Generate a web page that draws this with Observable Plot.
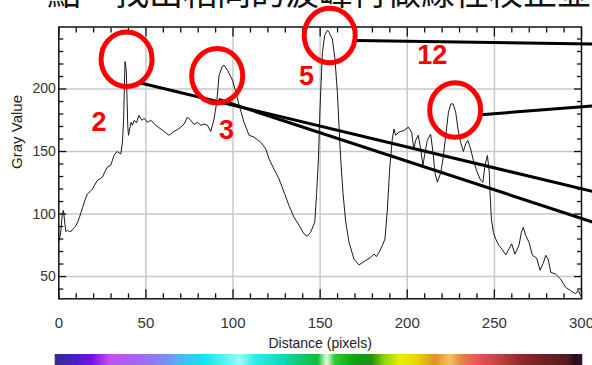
<!DOCTYPE html>
<html>
<head>
<meta charset="utf-8">
<script src="https://cdn.jsdelivr.net/npm/d3@7"></script>
<script src="https://cdn.jsdelivr.net/npm/@observablehq/plot@0.6"></script>
<style>
  html, body { margin: 0; padding: 0; background: #fff; }
  body { width: 592px; height: 365px; overflow: hidden; position: relative; }
  #top { position: absolute; left: 47px; top: -26px; font-family: "Noto Sans CJK TC", sans-serif; font-size: 34px; line-height: 34px; white-space: nowrap; color: #111; z-index: 3; }
  #chart { position: absolute; left: 0; top: 0; z-index: 1; }
  #bar { position: absolute; left: 0; top: 353.5px; z-index: 2; }
</style>
</head>
<body>
<div id="top">點，找出相同的波峰再做線性校正並</div>
<div id="chart"></div>
<div id="bar"></div>
<script>
// ---- profile data (Distance in pixels, Gray Value) ----
const distance = [0,1,2,2.7,3.5,4,5,6,7,8,9.5,10.7,12,13.6,15,16.4,18,19.3,20.5,22.2,23.5,25,26.5,27.9,29.8,30.8,31.7,33.4,34.5,35.6,36.5,37.2,37.6,38,38.4,38.8,39.2,39.6,40,40.8,41.5,42.3,43.3,44.6,46,47.6,49,50.9,52.8,55.7,59.5,63.3,66.1,69,71.9,73.8,75.7,77.6,79.6,81.5,83.4,85.3,87.2,89.1,90.6,92,93.9,94.9,96.8,99.7,101.6,103.5,106.3,109.2,112,115.9,118.8,120.7,123.5,126.4,129.3,132.1,135,137.9,140.7,142.6,144.5,146.9,148,149,149.9,151.3,152.6,154.2,155.1,157,158.5,159.9,160.8,161.8,163.1,164.7,166.6,169.4,172.3,174.2,176.1,179,180.9,182.3,183.8,185.7,187.2,188.6,189.9,191.4,192.4,193.3,195.2,198.1,200.6,202.5,203.8,204.8,206.3,207.7,209,210.2,211.5,213.4,214.8,215.9,217.3,219.2,220.5,222.1,223.6,225,226.4,227.8,229.1,230.6,232.2,233.5,234.8,236.4,238.2,240.2,242.1,243.4,244.6,246,247.1,247.5,248.3,249.4,250.7,252.6,254.6,256.5,258.4,259.9,261.8,264.1,265.5,266.6,268,269.9,271.8,274.3,276.2,278.1,279.5,280.8,282.4,285.1,288,290.9,293.7,296.6,298.2,299.5];
const grayValue = [78,84,100,103,92,86,87,86,86,88,90,93,98,105,111,116,118,120,123,127,128,129.5,134,137.5,139,143,147,150,149,148,157,175,200,222,219,213,190,170,163,169,173.5,171,175,173,179,175,176.6,173.4,175,171,167,163,166,168.3,172,177.4,175,171.6,173.4,171,172,171,166,176,189,211,218.3,219,215,207,197.4,187,173.4,163,161.5,157.4,152,144,136,128,117.4,106.8,97.4,91,84.2,82.2,85.4,93.4,117,144,184,229,243,247,245.4,240,224,197,171,144,117,93.4,77.4,64,59.3,61,62.8,65.4,68,66,69.4,74.8,80,104,136,160,168,163,165.5,166.8,169.5,165.5,152,159,163,152,139,149,159,164,149,133,125.4,133,144,163,181,188.2,188,181.4,168,157.4,150,156,158.8,152,141.4,133.4,127,125.4,139,146.8,133,117,96,85.4,80.2,74.8,71.6,67.3,72.2,76.2,68,74.8,85.4,89.4,82.8,77.4,67,64.7,55,61,67,64,53.4,52,48,41.4,38.8,36.2,38.8,34.8];

// ---- axes ----
const xTicks = [0, 50, 100, 150, 200, 250, 300];
const yTicks = [50, 100, 150, 200];
const xMinor = d3.range(0, 301, 10).filter(v => v % 50 !== 0);
const yMinor = d3.range(40, 250, 10).filter(v => v % 50 !== 0);

// ---- annotations (peak markers) ----
const peakLabels = ["2", "3", "5", "12"];
const circleX = [38.9, 90.9, 155.5, 227.5];
const circleY = [223.8, 210.6, 242.8, 183.2];
const labelX = [23.1, 96.3, 142.2, 214.4];
const labelY = [173.6, 166.8, 210.2, 227.0];
const linkX1 = [45.15, 91.8, 170.4, 242.1];
const linkY1 = [205.4, 191.6, 238.8, 179.4];
const linkX2 = [306.4, 306.4, 306.4, 306.4];
const linkY2 = [118.1, 93.6, 236.0, 186.5];

// ---- colour bar (LUT) ----
const barStops = [0,0.038,0.070,0.104,0.142,0.180,0.218,0.256,0.285,0.332,0.351,0.380,0.427,0.465,0.499,0.516,0.531,0.569,0.601,0.626,0.655,0.689,0.721,0.750,0.772,0.803,0.844,0.882,0.930,0.973,0.987,1];
const barColors = ["#3b2c8e","#4b22c8","#7a10e6","#c452ee","#b060f0","#9a74f2","#6e9cf2","#38c8f2","#10e6f4","#6ef6f4","#a0fcf4","#30eee8","#10dcc0","#18c870","#10c030","#e6ffe6","#30cc30","#14a014","#229018","#90d810","#e8f000","#f0d000","#e09030","#f8c060","#e08848","#e85858","#c04444","#902a30","#722028","#5a1c20","#2a1020","#301828"];

const profile = distance.map((d, i) => ({d, g: grayValue[i]}));
const idx = peakLabels.map((_, i) => i);

const ellipse = {
  draw(ctx, size) {
    const r = Math.sqrt(size / Math.PI), rx = r, ry = r * 1.07, k = 0.5523;
    ctx.moveTo(rx, 0);
    ctx.bezierCurveTo(rx, ry * k, rx * k, ry, 0, ry);
    ctx.bezierCurveTo(-rx * k, ry, -rx, ry * k, -rx, 0);
    ctx.bezierCurveTo(-rx, -ry * k, -rx * k, -ry, 0, -ry);
    ctx.bezierCurveTo(rx * k, -ry, rx, -ry * k, rx, 0);
    ctx.closePath();
  }
};

const red = "#fe0000";
const tickStroke = "#111";

const chart = Plot.plot({
  width: 592,
  height: 365,
  marginLeft: 58.3,
  marginRight: 11,
  marginTop: 26.5,
  marginBottom: 66.7,
  x: {domain: [0, 300]},
  y: {domain: [32.2, 249.6]},
  style: {fontFamily: "'Liberation Sans', Arial, sans-serif", background: "transparent", overflow: "visible"},
  marks: [
    Plot.gridX(xTicks.slice(1, -1), {stroke: "#c8c8c8", strokeOpacity: 1, strokeWidth: 1.5}),
    Plot.gridY(yTicks, {stroke: "#c8c8c8", strokeOpacity: 1, strokeWidth: 1.5}),
    Plot.line(profile, {x: "d", y: "g", stroke: "#1a1a1a", strokeWidth: 1}),
    Plot.frame({stroke: "#111", strokeWidth: 1.5}),
    // inner ticks
    Plot.axisX(xMinor, {anchor: "bottom", tickSize: 5, dy: -5, fill: "none", label: null, stroke: tickStroke, strokeWidth: 1.3}),
    Plot.axisX(xTicks, {anchor: "bottom", tickSize: 9, dy: -9, fill: "none", label: null, stroke: tickStroke, strokeWidth: 1.3}),
    Plot.axisX(xMinor, {anchor: "top", tickSize: 5, dy: 5, fill: "none", label: null, stroke: tickStroke, strokeWidth: 1.3}),
    Plot.axisX(xTicks, {anchor: "top", tickSize: 9, dy: 9, fill: "none", label: null, stroke: tickStroke, strokeWidth: 1.3}),
    Plot.axisY(yMinor, {anchor: "left", tickSize: 5, dx: 5, fill: "none", label: null, stroke: tickStroke, strokeWidth: 1.3}),
    Plot.axisY(yTicks, {anchor: "left", tickSize: 8, dx: 8, fill: "none", label: null, stroke: tickStroke, strokeWidth: 1.3}),
    Plot.axisY(yMinor, {anchor: "right", tickSize: 5, dx: -5, fill: "none", label: null, stroke: tickStroke, strokeWidth: 1.3}),
    Plot.axisY(yTicks, {anchor: "right", tickSize: 8, dx: -8, fill: "none", label: null, stroke: tickStroke, strokeWidth: 1.3}),
    // tick labels
    Plot.axisX(xTicks, {anchor: "bottom", tickSize: 0, tickPadding: 18.3, fontSize: 15, fill: "#333", label: null}),
    Plot.axisY(yTicks, {anchor: "left", tickSize: 0, tickPadding: 3, fontSize: 14, fill: "#333", label: null}),
    // axis titles
    Plot.text(["Gray Value"], {frameAnchor: "left", dx: -42, dy: 6, rotate: -90, fontSize: 15, fill: "#222"}),
    Plot.text(["Distance (pixels)"], {frameAnchor: "bottom", dy: 49.2, fontSize: 14, fill: "#222"}),
    // annotations
    Plot.link(idx, {x1: i => linkX1[i], y1: i => linkY1[i], x2: i => linkX2[i], y2: i => linkY2[i], stroke: "#000", strokeWidth: 3}),
    Plot.dot(idx, {x: i => circleX[i], y: i => circleY[i], r: 25.5, symbol: ellipse, stroke: red, strokeWidth: 5, fill: "none"}),
    Plot.text(idx, {x: i => labelX[i], y: i => labelY[i], text: i => peakLabels[i], fill: red, fontSize: 27, fontWeight: "bold", fontFamily: "'Liberation Sans', Arial, sans-serif"})
  ]
});
document.getElementById("chart").append(chart);

const step = 1 / 527;
const segs = d3.range(0, 1, step);
const bar = Plot.plot({
  width: 592,
  height: 12,
  marginLeft: 55,
  marginRight: 10,
  marginTop: 0,
  marginBottom: 0,
  x: {domain: [0, 1], axis: null},
  y: {domain: [0, 1], axis: null},
  color: {type: "linear", domain: barStops, range: barColors, interpolate: "rgb"},
  style: {background: "transparent"},
  marks: [
    Plot.rect(segs, {x1: d => d, x2: d => Math.min(1, d + step), y1: 0, y2: 1, fill: d => d + step / 2, stroke: d => d + step / 2, strokeWidth: 0.6})
  ]
});
document.getElementById("bar").append(bar);
</script>
</body>
</html>
